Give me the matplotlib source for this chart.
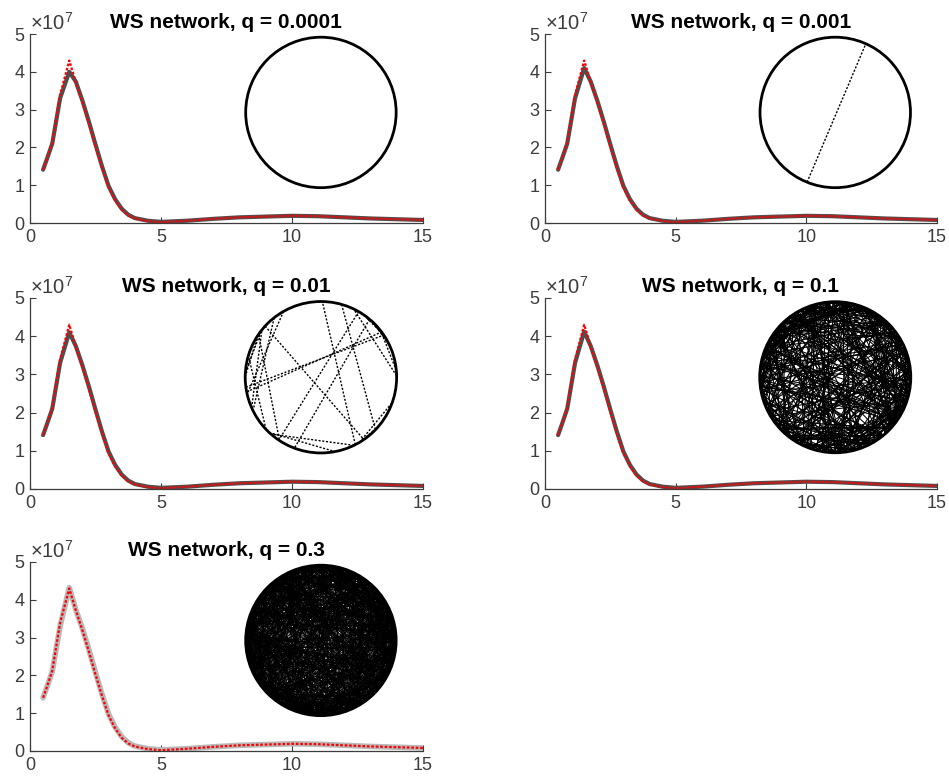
import matplotlib
matplotlib.use("Agg")
import matplotlib.pyplot as plt
import numpy as np
from matplotlib.collections import LineCollection
from matplotlib.patches import Circle
from matplotlib.ticker import FuncFormatter

plt.rcParams['font.family'] = ['Liberation Sans', 'DejaVu Sans']
plt.rcParams['mathtext.fontset'] = 'custom'
plt.rcParams['mathtext.rm'] = 'Liberation Sans'
plt.rcParams['mathtext.it'] = 'Liberation Sans'

# rewiring probabilities of the five panels
q_values = [0.0001, 0.001, 0.01, 0.1, 0.3]
q_labels = ['0.0001', '0.001', '0.01', '0.1', '0.3']

# x grid and curves (values in units of 1e7)
x = [0.5, 0.65, 0.85, 1.15, 1.5, 1.75, 2.0, 2.25, 2.5, 2.75, 3.0, 3.25, 3.5,
     3.75, 4.0, 4.5, 5.0, 6.0, 7.0, 8.0, 9.0, 10.0, 11.0, 12.0, 13.0, 14.0, 15.0]
theory = [1.41, 1.70, 2.12, 3.39, 4.30, 3.72, 3.20, 2.63, 2.03, 1.46, 0.94,
          0.60, 0.35, 0.20, 0.12, 0.05, 0.02, 0.06, 0.11, 0.15, 0.17, 0.19,
          0.18, 0.15, 0.12, 0.10, 0.08]
simulated = [1.41, 1.70, 2.10, 3.30, 4.10, 3.74, 3.24, 2.68, 2.08, 1.50, 0.98,
             0.63, 0.38, 0.22, 0.13, 0.06, 0.03, 0.06, 0.11, 0.15, 0.17, 0.19,
             0.18, 0.15, 0.12, 0.10, 0.08]
sim_peak = [4.00, 4.10, 4.10, 4.12, 4.32]
sim_color = ['#4f4f4f', '#4f4f4f', '#4f4f4f', '#4f4f4f', '#b8b8b8']

# explicit long-range chords (angles in degrees) for the sparse networks
chords_0001 = []
chords_001 = [(248, 66), (43, 33)]

N_NODES = 1000
K_HALF = 4

# chord line width and style per panel
chord_lw = [1.0, 1.0, 1.0, 0.75, 0.42]
chord_ls = [(0, (1.5, 1.2)), (0, (1.5, 1.2)), (0, (1.5, 1.2)), '-', '-']

AX_POS = [
    [0.0316, 0.7141, 0.414, 0.2423],
    [0.5743, 0.7141, 0.413, 0.2423],
    [0.0316, 0.3731, 0.414, 0.2449],
    [0.5743, 0.3731, 0.413, 0.2449],
    [0.0316, 0.0372, 0.414, 0.2423],
]


def ws_chords(q, seed):
    # long-range edges of a rewired ring lattice
    rng = np.random.default_rng(seed)
    src = np.repeat(np.arange(N_NODES), K_HALF)
    rewired = rng.random(src.size) < q
    dst = rng.integers(0, N_NODES, rewired.sum())
    a1 = src[rewired] * 2 * np.pi / N_NODES
    a2 = dst * 2 * np.pi / N_NODES
    return list(zip(np.degrees(a1), np.degrees(a2)))


def draw_network(ax, chords, lw, ls):
    ins = ax.inset_axes([0.542, 0.175, 0.397, 0.82])
    ins.set_xlim(-1.03, 1.03)
    ins.set_ylim(-1.03, 1.03)
    ins.set_aspect('equal')
    ins.axis('off')
    if chords:
        ang = np.radians(np.array(chords, dtype=float))
        segs = np.stack([np.stack([np.cos(ang[:, 0]), np.sin(ang[:, 0])], axis=1),
                         np.stack([np.cos(ang[:, 1]), np.sin(ang[:, 1])], axis=1)],
                        axis=1)
        lc = LineCollection(segs, colors='black', linewidths=lw, linestyles=ls)
        ins.add_collection(lc)
    ins.add_patch(Circle((0, 0), 1.0, fill=False, lw=2.0, ec='black'))


fig = plt.figure(figsize=(9.49, 7.80), dpi=100)

for i, q in enumerate(q_values):
    ax = fig.add_axes(AX_POS[i])
    xs = np.array(x)
    sim = np.array(simulated) * 1e7
    sim[4] = sim_peak[i] * 1e7
    lw = 4.0 if i == 4 else 3.0
    ax.plot(xs, sim, color=sim_color[i], lw=lw, solid_capstyle='round')
    ax.plot(xs, np.array(theory) * 1e7, color='#ff0000', lw=1.6,
            linestyle=(0, (1.2, 0.8)))

    ax.set_xlim(0, 15)
    ax.set_ylim(0, 5e7)
    ax.set_xticks([0, 5, 10, 15])
    ax.set_yticks([0, 1e7, 2e7, 3e7, 4e7, 5e7])
    ax.yaxis.set_major_formatter(FuncFormatter(lambda v, _: f'{v / 1e7:g}'))
    ax.tick_params(direction='in', length=4, width=0.8, colors='#3c3c3c',
                   labelsize=13, pad=4)
    for side in ['top', 'right']:
        ax.spines[side].set_visible(False)
    for side in ['left', 'bottom']:
        ax.spines[side].set_color('#3c3c3c')
        ax.spines[side].set_linewidth(0.9)

    ax.text(0.0, 1.0, r'$\times10^{7}$', transform=ax.transAxes,
            ha='left', va='bottom', fontsize=14.5, color='#3c3c3c')
    ax.set_title(f'WS network, q = {q_labels[i]}', fontsize=15,
                 fontweight='bold', pad=4)

    if i == 0:
        chords = chords_0001
    elif i == 1:
        chords = chords_001
    else:
        chords = ws_chords(q, 7 + i)
    draw_network(ax, chords, chord_lw[i], chord_ls[i])

fig.savefig('out.png', dpi=100)
